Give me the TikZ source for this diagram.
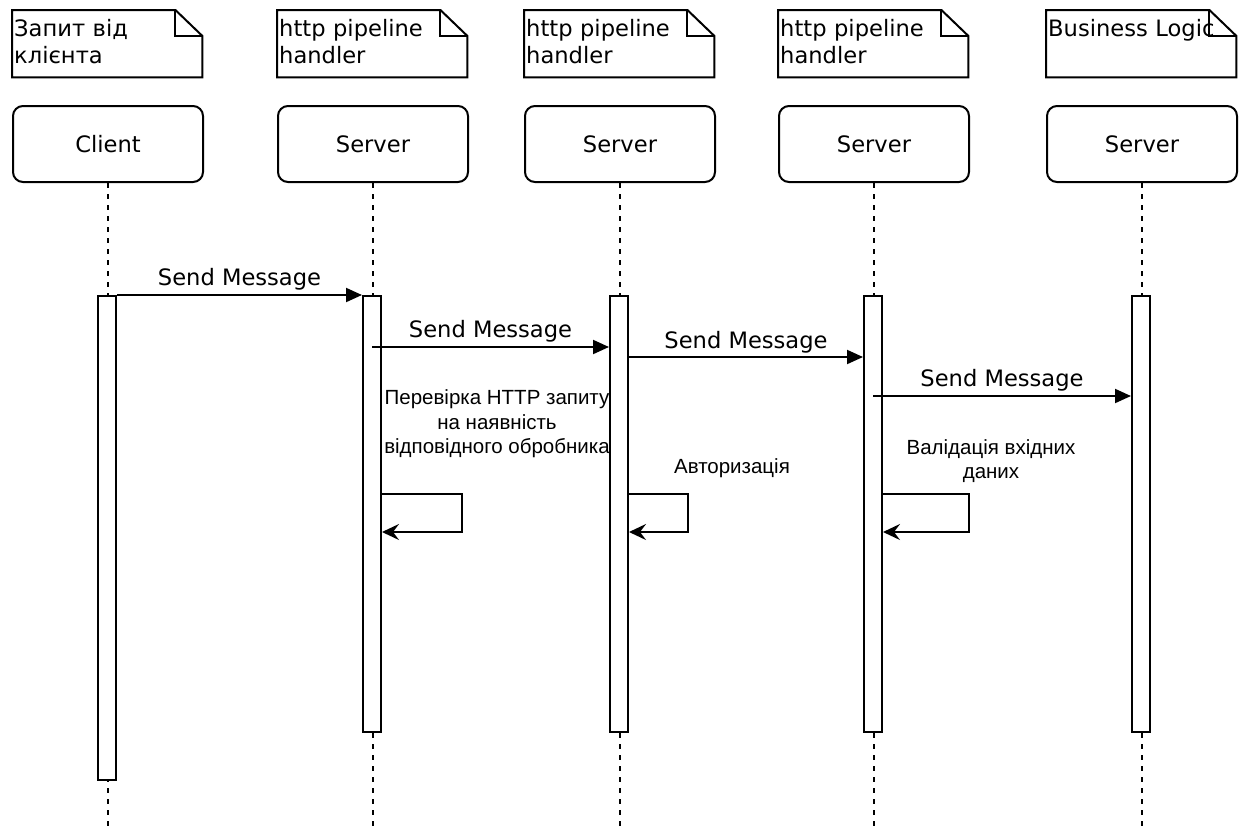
\documentclass[tikz,border=0pt]{standalone}
\usepackage{fontspec}
\setmainfont{DejaVu Sans}
\newfontfamily\labfont{Liberation Sans}
\usetikzlibrary{arrows.meta,calc}
\tikzset{
  big/.style={font=\fontsize{22.6}{27}\selectfont},
  notebody/.style={minimum width=190pt, minimum height=67pt, inner sep=0pt, anchor=north west},
  notetext/.style={big, anchor=north west, inner sep=0pt, align=left, text width=188pt},
  head/.style={big, draw, line width=2pt, rounded corners=10pt, minimum width=190pt, minimum height=76pt, inner sep=0pt, anchor=north west},
  life/.style={line width=2pt, dash pattern=on 5pt off 6pt},
  bar/.style={draw, fill=white, line width=2pt, minimum width=18pt, inner sep=0pt, anchor=north},
  msg/.style={line width=2pt, -{Triangle[length=16pt,width=14pt]}},
  selfmsg/.style={line width=2pt, -{Stealth[length=17pt,width=16pt,inset=6pt]}},
  msglabel/.style={big, inner sep=0pt},
  actlabel/.style={font=\labfont\fontsize{20.5}{24.5}\selectfont, align=center, inner sep=0pt},
}
\begin{document}
\begin{tikzpicture}[x=1pt,y=-1pt]
\useasboundingbox (0,0) rectangle (1241,825);

% notes above the lifelines
\node[notebody] (n1) at (12,10) {};
\node[notebody] (n2) at (277,10) {};
\node[notebody] (n3) at (524,10) {};
\node[notebody] (n4) at (778,10) {};
\node[notebody] (n5) at (1046,10) {};
\foreach \n in {n1,n2,n3,n4,n5}{
  \draw[line width=2pt]
    (\n.north west) -- ([xshift=-27pt]\n.north east) -- ([yshift=-26pt]\n.north east)
    -- (\n.south east) -- (\n.south west) -- cycle;
  \draw[line width=2pt]
    ([xshift=-27pt]\n.north east) -- ([xshift=-27pt,yshift=-26pt]\n.north east)
    -- ([yshift=-26pt]\n.north east);
}
\node[notetext] (t1) at (14,19) {Запит від\\клієнта};
\node[notetext] (t2) at (279,19) {http pipeline\\handler};
\node[notetext] (t3) at (526,19) {http pipeline\\handler};
\node[notetext] (t4) at (780,19) {http pipeline\\handler};
\node[notetext] (t5) at (1048,19) {Business Logic};

% participants
\node[head] (h1) at (12,105) {Client};
\node[head] (h2) at (277,105) {Server};
\node[head] (h3) at (524,105) {Server};
\node[head] (h4) at (778,105) {Server};
\node[head] (h5) at (1046,105) {Server};

% lifelines
\foreach \h in {h1,h2,h3,h4,h5}{
  \coordinate (\h end) at ($(\h.south)+(0,644)$);
  \draw[life] (\h.south) -- (\h end);
}

% notes on the processing steps
\node[actlabel] (l1) at (497,424) {Перевірка HTTP запиту\\на наявність\\відповідного обробника};
\node[actlabel] (l2) at (732,468) {Авторизація};
\node[actlabel] (l3) at (991,461) {Валідація вхідних\\даних};

% activation bars
\node[bar, minimum height=484pt] (b1) at (107,295) {};
\node[bar, minimum height=436pt] (b2) at (372,295) {};
\node[bar, minimum height=436pt] (b3) at (619,295) {};
\node[bar, minimum height=436pt] (b4) at (873,295) {};
\node[bar, minimum height=436pt] (b5) at (1141,295) {};

% messages
\draw[msg] (b1.north east) -- node[msglabel, above=4pt] (m1) {Send Message} (b2.north west);

\coordinate (m2s) at ($(b2.north)+(0,52)$);
\coordinate (m2e) at ($(b3.north west)+(0,52)$);
\draw[msg] (m2s) -- node[msglabel, above=4pt] (m2) {Send Message} (m2e);

\coordinate (m3s) at ($(b3.north east)+(0,62)$);
\coordinate (m3e) at ($(b4.north west)+(0,62)$);
\draw[msg] (m3s) -- node[msglabel, above=3pt] (m3) {Send Message} (m3e);

\coordinate (m4s) at ($(b4.north)+(0,101)$);
\coordinate (m4e) at ($(b5.north west)+(0,101)$);
\draw[msg] (m4s) -- node[msglabel, above=4pt] (m4) {Send Message} (m4e);

% self calls
\coordinate (s1) at ($(b2.north east)+(0,199)$);
\draw[selfmsg] (s1) -- ++(80,0) -- ++(0,38) -- ($(s1)+(0,38)$);
\coordinate (s2) at ($(b3.north east)+(0,199)$);
\draw[selfmsg] (s2) -- ++(59,0) -- ++(0,38) -- ($(s2)+(0,38)$);
\coordinate (s3) at ($(b4.north east)+(0,199)$);
\draw[selfmsg] (s3) -- ++(86,0) -- ++(0,38) -- ($(s3)+(0,38)$);
\end{tikzpicture}
\end{document}
